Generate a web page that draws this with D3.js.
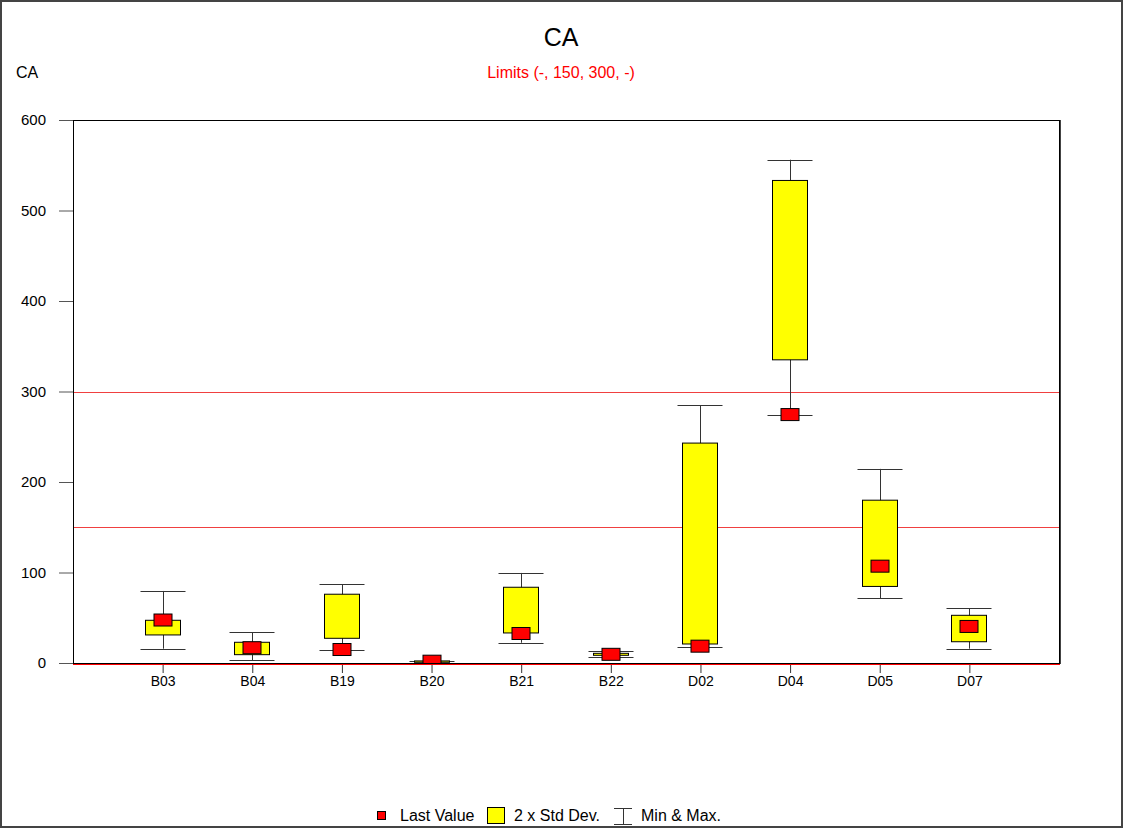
<!DOCTYPE html>
<html>
<head>
<meta charset="utf-8">
<script src="https://cdn.jsdelivr.net/npm/d3@7"></script>
<style>
  body { margin: 0; background: #fff; }
  svg { display: block; font-family: Arial, "Liberation Sans", sans-serif; }
</style>
</head>
<body>
<div id="chart-area"></div>
<script>
// Data
const wells    = ['B03', 'B04', 'B19', 'B20', 'B21', 'B22', 'D02', 'D04', 'D05', 'D07'];
const maxVals  = [79.6, 33.9, 87.0, 2.6, 99.5, 12.9, 284.9, 556.1, 214.5, 60.5];
const boxHigh  = [47.2, 22.9, 76.0, 2.3, 83.7, 10.7, 243.0, 533.2, 179.9, 52.7];
const boxLow   = [31.0, 9.2, 27.3, 0.8, 33.2, 8.5, 21.0, 335.0, 84.6, 23.5];
const minVals  = [15.8, 3.3, 14.4, 0.3, 22.4, 6.3, 18.0, 273.9, 71.5, 15.8];
const lastVals = [47.5, 16.9, 14.9, 2.0, 32.6, 9.6, 18.6, 274.5, 107.0, 40.4];
const limits   = [150, 300];
const yTicks   = [0, 100, 200, 300, 400, 500, 600];
const legendLabels = ['Last Value', '2 x Std Dev.', 'Min & Max.'];

// Layout
const W = 1124, H = 829;
const margin = { left: 73, right: 65, top: 120, bottom: 166 };
const width = W - margin.left - margin.right;
const height = H - margin.top - margin.bottom;

const svg = d3.select('#chart-area')
    .append('svg')
    .attr('width', W)
    .attr('height', H);

// Outer frame
svg.append('rect')
    .attr('x', 1).attr('y', 1)
    .attr('width', W - 3).attr('height', H - 3)
    .attr('fill', 'none')
    .attr('stroke', '#444')
    .attr('stroke-width', 2);

// Titles
svg.append('text')
    .attr('x', 561).attr('y', 46)
    .attr('text-anchor', 'middle')
    .attr('font-size', '25px')
    .text('CA');

svg.append('text')
    .attr('x', 16).attr('y', 78)
    .attr('font-size', '16px')
    .text('CA');

svg.append('text')
    .attr('x', 561).attr('y', 78)
    .attr('text-anchor', 'middle')
    .attr('font-size', '16px')
    .attr('fill', '#ff0000')
    .text('Limits (-, 150, 300, -)');

const g = svg.append('g')
    .attr('transform', 'translate(' + margin.left + ', ' + margin.top + ')');

// Scales
const x = d3.scalePoint()
    .domain(wells)
    .range([0, width])
    .padding(1);

const y = d3.scaleLinear()
    .domain([0, 600])
    .range([height, 0]);

// Clip
svg.append('defs').append('clipPath')
    .attr('id', 'plot-clip')
    .append('rect')
    .attr('width', width).attr('height', height);

// Y axis
const yAxisCall = d3.axisLeft(y)
    .tickValues(yTicks)
    .tickSize(14)
    .tickPadding(13)
    .tickFormat(d3.format('d'));
const yAxis = g.append('g').call(yAxisCall);
yAxis.select('.domain').remove();
yAxis.selectAll('line').attr('stroke', '#555');
yAxis.selectAll('text').attr('font-size', '15px').attr('fill', '#000')
    .attr('font-family', 'Arial, "Liberation Sans", sans-serif');

// X axis
const xAxisCall = d3.axisBottom(x)
    .tickSize(10)
    .tickPadding(3);
const xAxis = g.append('g')
    .attr('transform', 'translate(0, ' + height + ')')
    .call(xAxisCall);
xAxis.select('.domain').remove();
xAxis.selectAll('line').attr('stroke', '#333');
xAxis.selectAll('text').attr('font-size', '14px').attr('fill', '#000')
    .attr('font-family', 'Arial, "Liberation Sans", sans-serif');

// Limit lines
g.selectAll('.limit')
    .data(limits)
    .enter().append('line')
    .attr('class', 'limit')
    .attr('x1', 0).attr('x2', width)
    .attr('y1', d => Math.round(y(d)) + 0.5)
    .attr('y2', d => Math.round(y(d)) + 0.5)
    .attr('stroke', '#f04040')
    .attr('stroke-width', 1);

// Zero red line under the axis
g.append('line')
    .attr('x1', 0).attr('x2', width + 1)
    .attr('y1', y(0) + 1.5).attr('y2', y(0) + 1.5)
    .attr('stroke', '#ff0000');

// Plot frame
g.append('rect')
    .attr('x', 0.5).attr('y', 0.5)
    .attr('width', width).attr('height', height)
    .attr('fill', 'none')
    .attr('stroke', '#000');
g.append('line')
    .attr('x1', width + 1.5).attr('x2', width + 1.5)
    .attr('y1', 0).attr('y2', height + 1)
    .attr('stroke', '#444');

// Boxes
const capW = 45, boxW = 35, markW = 18, markH = 12;
const rows = wells.map((w, i) => ({
    well: w, max: maxVals[i], hi: boxHigh[i], lo: boxLow[i], min: minVals[i], last: lastVals[i]
}));

const plot = g.append('g').attr('clip-path', 'url(#plot-clip)');

const items = plot.selectAll('.item')
    .data(rows)
    .enter().append('g')
    .attr('class', 'item')
    .attr('transform', d => 'translate(' + Math.round(x(d.well)) + ', 0)');

items.append('line')
    .attr('x1', 0.5).attr('x2', 0.5)
    .attr('y1', d => y(d.max)).attr('y2', d => y(d.min))
    .attr('stroke', '#333');

items.append('line')
    .attr('x1', -capW / 2).attr('x2', capW / 2)
    .attr('y1', d => Math.round(y(d.max)) + 0.5).attr('y2', d => Math.round(y(d.max)) + 0.5)
    .attr('stroke', '#333');

items.append('line')
    .attr('x1', -capW / 2).attr('x2', capW / 2)
    .attr('y1', d => Math.round(y(d.min)) + 0.5).attr('y2', d => Math.round(y(d.min)) + 0.5)
    .attr('stroke', '#333');

items.append('rect')
    .attr('x', -boxW / 2)
    .attr('y', d => y(d.hi))
    .attr('width', boxW)
    .attr('height', d => Math.max(1, y(d.lo) - y(d.hi)))
    .attr('fill', '#ffff00')
    .attr('stroke', '#000');

items.append('rect')
    .attr('x', -markW / 2)
    .attr('y', d => y(d.last) - markH / 2)
    .attr('width', markW)
    .attr('height', markH)
    .attr('fill', '#ff0000')
    .attr('stroke', '#000');

// Legend
const legend = svg.append('g').attr('transform', 'translate(0, 815)');

legend.append('rect')
    .attr('x', 377.5).attr('y', -3.5)
    .attr('width', 8).attr('height', 8)
    .attr('fill', '#ff0000').attr('stroke', '#000');
legend.append('rect')
    .attr('x', 487.5).attr('y', -7.5)
    .attr('width', 17).attr('height', 16)
    .attr('fill', '#ffff00').attr('stroke', '#000');
legend.append('line')
    .attr('x1', 614).attr('x2', 632).attr('y1', -6.5).attr('y2', -6.5).attr('stroke', '#333');
legend.append('line')
    .attr('x1', 614).attr('x2', 632).attr('y1', 9.5).attr('y2', 9.5).attr('stroke', '#333');
legend.append('line')
    .attr('x1', 623.5).attr('x2', 623.5).attr('y1', -6.5).attr('y2', 9.5).attr('stroke', '#333');

legend.selectAll('.legend-text')
    .data(legendLabels)
    .enter().append('text')
    .attr('class', 'legend-text')
    .attr('x', (d, i) => [400, 514, 641][i])
    .attr('y', 6)
    .attr('font-size', '16px')
    .text(d => d);
</script>
</body>
</html>
